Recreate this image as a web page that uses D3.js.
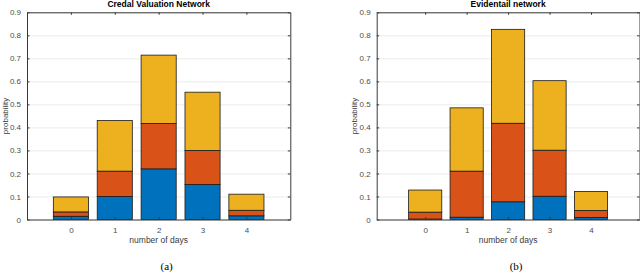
<!DOCTYPE html>
<html>
<head>
<meta charset="utf-8">
<script src="https://cdn.jsdelivr.net/npm/d3@7"></script>
<style>
  body { margin: 0; background: #fff; }
  svg { display: block; }
</style>
</head>
<body>
<svg id="chart" width="640" height="275"></svg>
<script>
const days = [0, 1, 2, 3, 4];
const yTicks = [0, 0.1, 0.2, 0.3, 0.4, 0.5, 0.6, 0.7, 0.8, 0.9];
const seriesColors = ['#0072BD', '#D95319', '#EDB120'];

// stacked segments (blue, orange, yellow) per day
const credalBlue   = [0.014, 0.100, 0.220, 0.152, 0.016];
const credalOrange = [0.019, 0.110, 0.197, 0.148, 0.024];
const credalYellow = [0.065, 0.220, 0.297, 0.253, 0.070];

const evidBlue   = [0.002, 0.010, 0.077, 0.101, 0.009];
const evidOrange = [0.030, 0.200, 0.341, 0.200, 0.030];
const evidYellow = [0.096, 0.275, 0.408, 0.302, 0.083];

const panels = [
  { title: 'Credal Valuation Network', caption: '(a)', series: [credalBlue, credalOrange, credalYellow],
    left: 27, right: 290.3, xDomain: [-1, 5] },
  { title: 'Evidentail network', caption: '(b)', series: [evidBlue, evidOrange, evidYellow],
    left: 376.7, right: 639.5, xDomain: [-1.17, 5.17] },
];

const plotTop = 12.3, plotBottom = 219.5;
const svg = d3.select('#chart');

panels.forEach(p => {
  const width = p.right - p.left;
  const height = plotBottom - plotTop;
  const g = svg.append('g').attr('transform', `translate(${p.left},${plotTop})`);

  const x = d3.scaleLinear().domain(p.xDomain).range([0, width]);
  const y = d3.scaleLinear().domain([0, 0.9]).range([height, 0]);
  const step = x(1) - x(0);
  const bw = step * 0.8;

  // Grid
  g.append('g').call(d3.axisLeft(y).tickValues(yTicks).tickSize(-width).tickFormat(() => ''))
    .call(a => a.select('.domain').remove())
    .selectAll('line').attr('stroke', '#ebebeb').attr('stroke-width', 1);

  // Bars
  const stack = days.map((d, i) => {
    let acc = 0;
    return p.series.map((s, k) => {
      const seg = { day: d, y0: acc, y1: acc + s[i], k };
      acc += s[i];
      return seg;
    });
  }).flat();

  g.selectAll('rect.bar').data(stack).enter().append('rect')
    .attr('class', 'bar')
    .attr('x', d => x(d.day) - bw / 2)
    .attr('width', bw)
    .attr('y', d => y(d.y1))
    .attr('height', d => y(d.y0) - y(d.y1))
    .attr('fill', d => seriesColors[d.k])
    .attr('stroke', '#1a1a1a').attr('stroke-width', 0.8);

  // Axes (ticks inside, MATLAB style)
  const axColor = '#3a3a3a';
  const styleAxis = a => {
    a.select('.domain').attr('stroke', axColor).attr('stroke-width', 1);
    a.selectAll('.tick line').attr('stroke', axColor);
    a.selectAll('text').attr('fill', '#4d4d4d').style('font-family', 'Liberation Sans, Arial, sans-serif').style('font-size', '8px');
  };
  g.append('g').attr('transform', `translate(0,${height})`)
    .call(d3.axisBottom(x).tickValues(days).tickSizeInner(-2.5).tickSizeOuter(0).tickPadding(8).tickFormat(d3.format('d')))
    .call(styleAxis);
  g.append('g')
    .call(d3.axisTop(x).tickValues(days).tickSizeInner(-2.5).tickSizeOuter(0).tickFormat(() => ''))
    .call(styleAxis);
  g.append('g')
    .call(d3.axisLeft(y).tickValues(yTicks).tickSizeInner(-2.5).tickSizeOuter(0).tickPadding(6)
      .tickFormat(d => d === 0 ? '0' : d3.format('.1f')(d)))
    .call(styleAxis);
  g.append('g').attr('transform', `translate(${width},0)`)
    .call(d3.axisRight(y).tickValues(yTicks).tickSizeInner(-2.5).tickSizeOuter(0).tickFormat(() => ''))
    .call(styleAxis);

  // Labels
  g.append('text').attr('x', width / 2).attr('y', height + 24)
    .attr('text-anchor', 'middle').attr('fill', '#3a3a3a')
    .style('font-family', 'Liberation Sans, Arial, sans-serif').style('font-size', '8.5px')
    .text('number of days');
  g.append('text').attr('transform', 'rotate(-90)').attr('x', -height / 2).attr('y', -19.5)
    .attr('text-anchor', 'middle').attr('fill', '#3a3a3a')
    .style('font-family', 'Liberation Sans, Arial, sans-serif').style('font-size', '8px')
    .text('probability');
  g.append('text').attr('x', width / 2).attr('y', -5)
    .attr('text-anchor', 'middle').attr('fill', '#000').attr('font-weight', 'bold')
    .style('font-family', 'Liberation Sans, Arial, sans-serif').style('font-size', '8.5px')
    .text(p.title);
  g.append('text').attr('x', width / 2 + 8).attr('y', height + 51)
    .attr('text-anchor', 'middle').attr('fill', '#000')
    .style('font-family', 'Liberation Serif, Times New Roman, serif').style('font-size', '11px')
    .text(p.caption);
});
</script>
</body>
</html>
